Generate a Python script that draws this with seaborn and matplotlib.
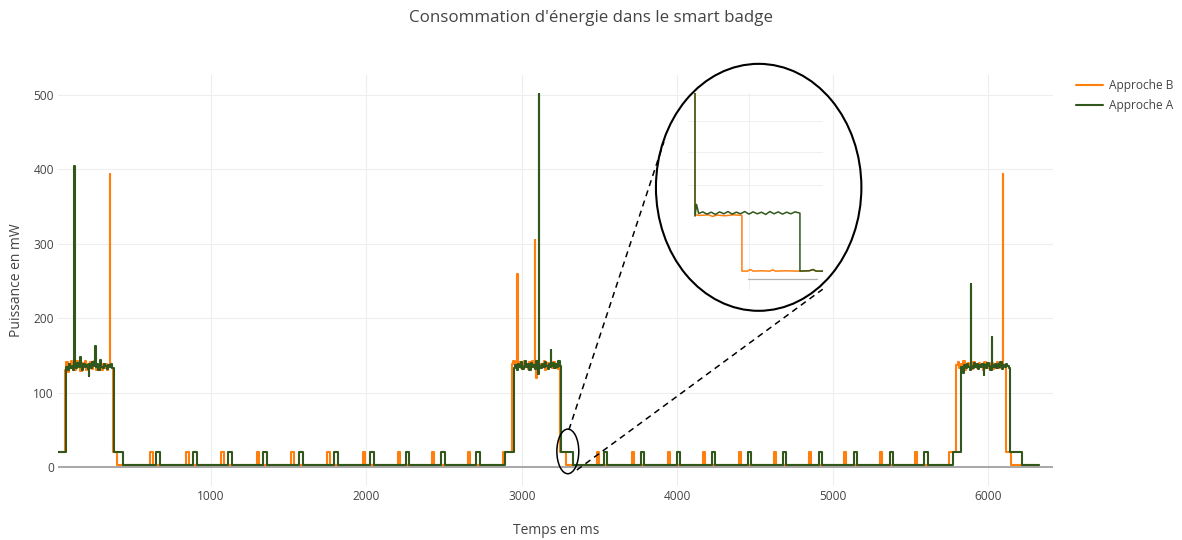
import matplotlib
matplotlib.use("Agg")
import matplotlib.pyplot as plt
import seaborn as sns
import pandas as pd
from matplotlib.patches import Ellipse
from matplotlib.lines import Line2D

# ---------------- data ----------------
# Approche B (orange)
b_plateau1_t = [61, 70, 79, 88, 97, 106, 115, 124, 133, 142, 151, 160, 169, 178, 187, 196, 205, 214, 223,
                232, 241, 250, 259, 268, 277, 286, 295, 304, 313, 322, 331, 340, 349, 352, 361]
b_plateau1_v = [131, 141, 128, 137, 143, 133, 139, 130, 142, 135, 137, 129, 140, 134, 143, 131, 138, 133, 141,
                132, 136, 142, 130, 137, 134, 140, 131, 138, 133, 139, 130, 136, 394, 135, 133]
b_plateau2_t = [2936, 2945, 2954, 2963, 2972, 2975, 2984, 2993, 3002, 3011, 3020, 3029, 3038, 3047, 3056, 3065,
                3074, 3083, 3086, 3089, 3095, 3104, 3113, 3122, 3131, 3140, 3149, 3158, 3167, 3176, 3185, 3194,
                3203, 3212, 3221, 3230, 3239]
b_plateau2_v = [138, 142, 134, 140, 260, 136, 141, 133, 139, 143, 135, 138, 132, 141, 137, 143,
                134, 305, 139, 120, 136, 141, 133, 139, 135, 142, 131, 138, 140, 134, 139, 133,
                141, 136, 138, 132, 137]
b_plateau3_t = [5797, 5806, 5815, 5824, 5833, 5842, 5851, 5860, 5869, 5878, 5887, 5896, 5905, 5914, 5923, 5932,
                5941, 5950, 5959, 5968, 5977, 5986, 5995, 6004, 6013, 6022, 6031, 6040, 6049, 6058, 6067, 6076,
                6085, 6094, 6097, 6106]
b_plateau3_v = [137, 141, 133, 139, 135, 142, 131, 138, 140, 134, 137, 132, 141, 136, 139, 133,
                140, 135, 138, 131, 141, 136, 133, 139, 134, 140, 132, 137, 135, 141, 133, 138,
                136, 394, 137, 134]
b_steps_t = [16, 370, 395, 2878, 3248, 3286, 5746, 6113, 6145, 6325]
b_steps_v = [20, 20, 2.5, 20, 20, 2.5, 20, 20, 2.5, 2.5]
b_pulse_on = [607, 839, 1064, 1295, 1514, 1746, 1977, 2202, 2421, 2652,
              3482, 3707, 3939, 4164, 4395, 4620, 4845, 5070, 5302, 5527]
b_pulse_off = [624, 856, 1081, 1312, 1531, 1763, 1994, 2219, 2438, 2669,
               3499, 3724, 3956, 4181, 4412, 4637, 4862, 5087, 5319, 5544]

# Approche A (green)
a_plateau1_t = [68, 77, 86, 95, 104, 113, 119, 122, 131, 140, 149, 158, 161, 170, 179, 188, 197, 206, 212, 215,
                218, 227, 236, 245, 254, 257, 266, 275, 284, 293, 302, 311, 320, 329, 338, 347, 356, 365]
a_plateau1_v = [135, 131, 138, 133, 136, 130, 405, 137, 133, 140, 135, 148, 136, 131, 139, 134, 137, 132, 122, 135,
                138, 133, 141, 136, 163, 134, 138, 131, 144, 135, 133, 139, 136, 132, 137, 134, 138, 133]
a_plateau2_t = [2949, 2958, 2967, 2976, 2985, 2994, 3003, 3012, 3021, 3030, 3039, 3048, 3057, 3066, 3075, 3084,
                3093, 3102, 3109, 3112, 3121, 3130, 3139, 3148, 3157, 3166, 3175, 3184, 3187, 3190, 3199, 3208,
                3217, 3226, 3235, 3244]
a_plateau2_v = [133, 137, 131, 139, 135, 141, 132, 136, 143, 134, 138, 130, 140, 135, 137, 132,
                142, 125, 502, 136, 133, 139, 134, 141, 136, 132, 138, 135, 157, 136, 140, 133,
                138, 134, 142, 136]
a_plateau3_t = [5829, 5838, 5847, 5856, 5865, 5874, 5883, 5888, 5891, 5900, 5909, 5918, 5927, 5936, 5945, 5954,
                5963, 5972, 5975, 5978, 5987, 5996, 6005, 6014, 6023, 6026, 6035, 6044, 6053, 6062, 6071, 6080,
                6089, 6098, 6107, 6116, 6125, 6134]
a_plateau3_v = [134, 126, 137, 133, 139, 135, 131, 246, 136, 133, 140, 134, 138, 132, 137, 135,
                139, 124, 134, 137, 133, 140, 136, 131, 175, 137, 134, 139, 133, 138, 135, 141,
                132, 137, 134, 139, 136, 133]
a_steps_t = [16, 376, 434, 2891, 3254, 3328, 5772, 6139, 6216, 6325]
a_steps_v = [20, 20, 2.5, 20, 20, 2.5, 20, 20, 2.5, 2.5]
a_pulse_on = [646, 884, 1109, 1334, 1565, 1791, 2022, 2253, 2479, 2704,
              3527, 3765, 3996, 4221, 4453, 4678, 4910, 5135, 5366, 5591]
a_pulse_off = [670, 908, 1133, 1358, 1589, 1815, 2046, 2277, 2503, 2728,
               3551, 3789, 4020, 4245, 4477, 4702, 4934, 5159, 5390, 5615]

# zoomed detail (inset), plain polylines
zoom_b_t = [3252.4, 3252.4, 3256, 3262, 3265, 3268, 3274, 3280, 3286, 3286, 3290, 3292, 3294, 3300, 3306,
            3308, 3310, 3318, 3326, 3334, 3337, 3339, 3344]
zoom_b_v = [60, 19.8, 19.6, 19.8, 19.3, 19.7, 19.5, 19.8, 19.6, 2.5, 2.5, 3.0, 2.5, 2.6, 2.5,
            2.9, 2.5, 2.6, 2.5, 2.6, 2.9, 2.5, 2.5]
zoom_a_t = [3252.4, 3252.4, 3253.5, 3255, 3258, 3261, 3264, 3267, 3270, 3273, 3276, 3279, 3282, 3285, 3288,
            3291, 3294, 3297, 3300, 3303, 3306, 3309, 3312, 3315, 3318, 3321, 3324, 3327.5, 3327.5, 3334,
            3337, 3339, 3344]
zoom_a_v = [60, 19.4, 23.0, 20.2, 20.7, 20.0, 20.6, 19.9, 20.7, 20.1, 20.8, 20.0, 20.6, 20.1, 20.8,
            20.0, 20.7, 20.1, 20.6, 19.9, 20.8, 20.1, 20.7, 20.0, 20.6, 20.1, 20.7, 20.3, 2.5, 2.6,
            3.0, 2.5, 2.5]

x_ticks = [1000, 2000, 3000, 4000, 5000, 6000]
y_ticks = [0, 100, 200, 300, 400, 500]


def build(steps_t, steps_v, plateaus, p_on, p_off):
    pts = list(zip(steps_t, steps_v))
    for t, v in plateaus:
        pts += list(zip(t, v))
    pts += [(t, 20) for t in p_on] + [(t, 2.5) for t in p_off]
    pts.sort(key=lambda p: p[0])
    return pd.DataFrame(pts, columns=["t", "mw"])


df_b = build(b_steps_t, b_steps_v,
             [(b_plateau1_t, b_plateau1_v), (b_plateau2_t, b_plateau2_v), (b_plateau3_t, b_plateau3_v)],
             b_pulse_on, b_pulse_off)
df_a = build(a_steps_t, a_steps_v,
             [(a_plateau1_t, a_plateau1_v), (a_plateau2_t, a_plateau2_v), (a_plateau3_t, a_plateau3_v)],
             a_pulse_on, a_pulse_off)

# ---------------- style ----------------
sns.set_style("white")
plt.rcParams["font.family"] = ["Open Sans", "DejaVu Sans"]
TXT = "#444444"
C_B = "#ff7f0e"
C_A = "#31571c"

W, H = 1182, 540
fig = plt.figure(figsize=(W / 100, H / 100), dpi=100)
ax = fig.add_axes([58 / W, 1 - 486 / H, 995 / W, 411 / H])

sns.lineplot(data=df_b, x="t", y="mw", ax=ax, color=C_B, linewidth=1.5, estimator=None, sort=False,
             drawstyle="steps-post", label="Approche B", zorder=3)
sns.lineplot(data=df_a, x="t", y="mw", ax=ax, color=C_A, linewidth=1.5, estimator=None, sort=False,
             drawstyle="steps-post", label="Approche A", zorder=4)

ax.set_xlim(15.4, 6418)
ax.set_ylim(-25.5, 527)
ax.set_xticks(x_ticks)
ax.set_yticks(y_ticks)
ax.set_xticklabels([str(v) for v in x_ticks])
ax.set_yticklabels([str(v) for v in y_ticks])
ax.tick_params(axis="both", length=0, labelsize=8.6, colors=TXT)
ax.tick_params(axis="x", pad=3)
ax.tick_params(axis="y", pad=3)
for s in ax.spines.values():
    s.set_visible(False)
ax.grid(True, color="#eeeeee", linewidth=0.8)
ax.set_axisbelow(True)
ax.axhline(0, color="#9a9a9a", linewidth=1.2, zorder=2)
ax.set_xlabel("")
ax.set_ylabel("")
ax.get_legend().remove()

fig.text(591 / W, 1 - 18 / H, "Consommation d'énergie dans le smart badge", ha="center", va="center",
         fontsize=12.2, color=TXT)
fig.text(556 / W, 1 - 531 / H, "Temps en ms", ha="center", va="center", fontsize=10, color=TXT)
fig.text(17 / W, 1 - 280 / H, "Puissance en mW", ha="center", va="center", rotation=90, fontsize=10, color=TXT)

handles = [Line2D([0], [0], color=C_B, lw=1.5), Line2D([0], [0], color=C_A, lw=1.5)]
fig.legend(handles, ["Approche B", "Approche A"], loc="upper left", bbox_to_anchor=(1071 / W, 1 - 74 / H),
           frameon=False, fontsize=8.6, labelcolor=TXT, handlelength=2.3, handletextpad=0.5,
           labelspacing=0.6, borderaxespad=0)

# ---------------- zoom annotation ----------------
small = Ellipse((3296, 21), width=141, height=60, fill=False, edgecolor="black", linewidth=1.1, zorder=6,
                clip_on=False)
ax.add_patch(small)
big = Ellipse((4524, 376), width=1322, height=332, fill=False, edgecolor="black", linewidth=1.5, zorder=6,
              clip_on=False)
ax.add_patch(big)
ax.plot([3303, 3914], [50, 437], color="black", linestyle=(0, (4, 3)), linewidth=1.1, zorder=6)
ax.plot([3354, 4936], [-4, 239], color="black", linestyle=(0, (4, 3)), linewidth=1.1, zorder=6)

axin = fig.add_axes([688 / W, 1 - 290 / H, 135 / W, 197 / H])
axin.patch.set_alpha(0)
for s in axin.spines.values():
    s.set_visible(False)
axin.set_xticks([])
axin.set_yticks([])
axin.set_xlim(3247.4, 3344)
axin.set_ylim(-3.3, 57.2)
for yv in [29, 39, 48.5]:
    axin.axhline(yv, color="#f0f0f0", linewidth=0.8, zorder=0)
axin.axvline(3291, color="#f0f0f0", linewidth=0.8, zorder=0)
axin.plot([3290, 3340], [0, 0], color="#b0b0b0", linewidth=0.9, zorder=1)
sns.lineplot(x=zoom_b_t, y=zoom_b_v, ax=axin, color=C_B, linewidth=1.1, estimator=None, sort=False, zorder=3)
sns.lineplot(x=zoom_a_t, y=zoom_a_v, ax=axin, color=C_A, linewidth=1.1, estimator=None, sort=False, zorder=4)
axin.set_xlabel("")
axin.set_ylabel("")

fig.savefig("out.png", dpi=100)
